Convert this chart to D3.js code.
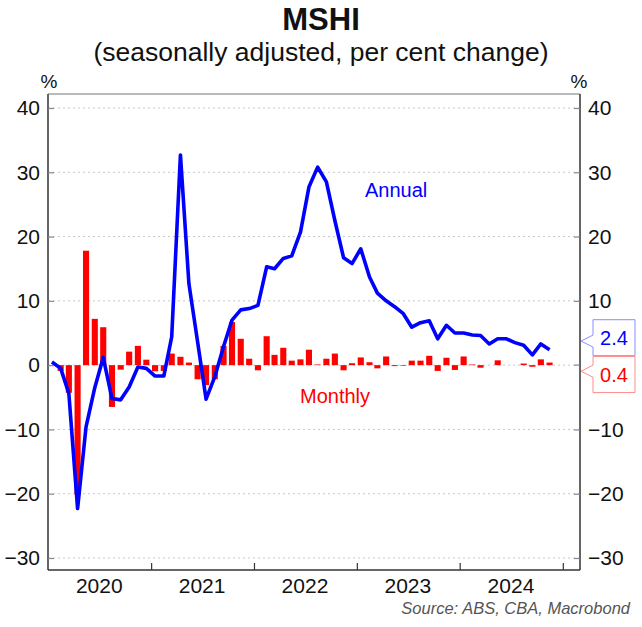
<!DOCTYPE html>
<html>
<head>
<meta charset="utf-8">
<script src="https://cdn.jsdelivr.net/npm/d3@7"></script>
<style>
  html, body { margin: 0; padding: 0; background: #fff; }
  svg { display: block; font-family: "Liberation Sans", Arial, sans-serif; }
</style>
</head>
<body>
<svg id="chart" width="642" height="627"></svg>
<script>
// ---- Data (Jan 2020 .. Nov 2024, monthly) ----
const startMonth = "2020-01";
const endMonth = "2024-11";
const annual = [
  0.5, -0.5, -4.4, -22.3, -9.6, -3.5, 1.2, -5.2, -5.4, -3.4, -0.3, -0.5,
  -1.7, -1.7, 4.4, 32.7, 12.7, 3.6, -5.3, -1.8, 2.9, 7.0, 8.6, 8.8,
  9.3, 15.3, 15.0, 16.6, 17.0, 20.7, 27.7, 30.8, 28.5, 22.5, 16.7, 15.8,
  18.1, 13.7, 11.2, 10.0, 9.1, 8.0, 5.9, 6.6, 6.9, 4.1, 6.2, 5.0,
  5.0, 4.7, 4.6, 3.3, 4.1, 4.1, 3.5, 3.1, 1.6, 3.3, 2.4
];
const monthly = [
  null, -0.9, -4.3, -20.1, 17.8, 7.2, 5.9, -6.5, -0.7, 2.1, 3.0, 0.85,
  -0.95, -0.9, 1.8, 1.3, 0.4, -2.2, -3.1, -2.2, 3.0, 6.7, 4.1, 1.0,
  -0.8, 4.5, 1.6, 2.7, 0.7, 0.9, 2.4, 0.1, 1.0, 1.8, -0.8, 0.3,
  1.2, 0.45, -0.5, 1.35, -0.15, -0.1, 0.7, 0.7, 1.45, -0.9, 1.15, -0.75,
  1.35, 0.1, -0.4, 0.0, 0.75, 0.0, 0.0, 0.25, -0.25, 0.9, 0.4
];
const yTicks = [-30, -20, -10, 0, 10, 20, 30, 40];
const yTicksRight = [-30, -20, -10, 10, 20, 30, 40];
const yearLabels = ["2020", "2021", "2022", "2023", "2024"];
const xDomain = ["2020-01-01", "2025-03-03"];

// ---- Layout ----
const svg = d3.select("#chart");
const L = 48, R = 580, T = 94, B = 570;

const parseMonth = d3.utcParse("%Y-%m");
const months = d3.utcMonth.range(parseMonth(startMonth), d3.utcMonth.offset(parseMonth(endMonth), 1));
const mid = d => d3.utcDay.offset(d, 14);
const rows = months.map((m, i) => ({ date: m, annual: annual[i], monthly: monthly[i] }));

const x = d3.scaleUtc().domain(xDomain.map(s => new Date(s + "T00:00:00Z"))).range([L, R]);
// y: 40 -> 108 px, -30 -> 558 px
const pxPerUnit = (558 - 108) / 70;
const y = d3.scaleLinear()
  .domain([-30 - (B - 558) / pxPerUnit, 40 + (108 - T) / pxPerUnit])
  .range([B, T]);

const monthW = x(new Date(Date.UTC(2021, 1, 1))) - x(new Date(Date.UTC(2021, 0, 1)));
const barW = monthW * 0.7;

// gridlines
svg.append("g").selectAll("line").data(yTicks).join("line")
  .attr("x1", L).attr("x2", R)
  .attr("y1", d => y(d)).attr("y2", d => y(d))
  .attr("stroke", "#c8c8c8").attr("stroke-width", 1)
  .attr("stroke-dasharray", "2,3");

// bars
svg.append("g").selectAll("rect").data(rows.filter(r => r.monthly !== null)).join("rect")
  .attr("x", d => x(mid(d.date)) - barW / 2)
  .attr("width", barW)
  .attr("y", d => y(Math.max(0, d.monthly)))
  .attr("height", d => Math.abs(y(d.monthly) - y(0)))
  .attr("fill", "#ff0000");

// line
const line = d3.line().x(d => x(mid(d.date))).y(d => y(d.annual));
svg.append("path").datum(rows).attr("d", line)
  .attr("fill", "none").attr("stroke", "#0000ff")
  .attr("stroke-width", 3.6).attr("stroke-linejoin", "round");

// frame top
svg.append("line").attr("x1", L).attr("x2", R).attr("y1", T).attr("y2", T)
  .attr("stroke", "#777").attr("stroke-width", 1.2);

// left axis
const yl = svg.append("g").attr("transform", `translate(${L},0)`)
  .call(d3.axisLeft(y).tickValues(yTicks).tickSize(-6).tickPadding(8));
// right axis
const yr = svg.append("g").attr("transform", `translate(${R},0)`)
  .call(d3.axisRight(y).tickValues(yTicksRight).tickSize(-6).tickPadding(8));
[yl, yr].forEach(g => {
  g.select(".domain").attr("stroke", "#333").attr("stroke-width", 1.5).attr("d",
    `M0,${T}V${B}`);
  g.selectAll(".tick line").attr("stroke", "#888").attr("stroke-width", 1.2);
  g.selectAll(".tick text").attr("font-size", 21).attr("fill", "#111")
    .attr("font-family", "Liberation Sans, Arial, sans-serif");
});
yl.selectAll(".tick text").attr("x", -8);
yr.selectAll(".tick text").attr("x", 8);
// right-side tick mark at 0 (label hidden by callouts)
svg.append("line").attr("x1", R - 6).attr("x2", R).attr("y1", y(0)).attr("y2", y(0))
  .attr("stroke", "#888").attr("stroke-width", 1.2);

// bottom axis
const yearStarts = d3.utcYear.range(new Date(Date.UTC(2021, 0, 1)), new Date(Date.UTC(2026, 0, 1)));
const xb = svg.append("g").attr("transform", `translate(0,${B})`)
  .call(d3.axisBottom(x).tickValues(yearStarts).tickSize(-7).tickFormat(""));
xb.select(".domain").attr("stroke", "#333").attr("stroke-width", 1.5).attr("d", `M${L},0H${R}`);
xb.selectAll(".tick line").attr("stroke", "#333").attr("stroke-width", 1.2);

svg.append("g").selectAll("text").data(yearLabels).join("text")
  .attr("x", d => x(new Date(Date.UTC(+d, 6, 1))))
  .attr("y", 593)
  .attr("text-anchor", "middle").attr("font-size", 21).attr("fill", "#111")
  .text(d => d);

// titles
svg.append("text").attr("x", 321).attr("y", 30).attr("text-anchor", "middle")
  .attr("font-size", 31).attr("font-weight", "bold").attr("fill", "#111").text("MSHI");
svg.append("text").attr("x", 321).attr("y", 61).attr("text-anchor", "middle")
  .attr("font-size", 26.5).attr("fill", "#111").text("(seasonally adjusted, per cent change)");
svg.append("text").attr("x", 49).attr("y", 88).attr("text-anchor", "middle")
  .attr("font-size", 19).attr("fill", "#111").text("%");
svg.append("text").attr("x", 579).attr("y", 88).attr("text-anchor", "middle")
  .attr("font-size", 19).attr("fill", "#111").text("%");

// series labels
svg.append("text").attr("x", 365).attr("y", 197).attr("font-size", 20)
  .attr("fill", "#0000ff").text("Annual");
svg.append("text").attr("x", 300).attr("y", 403).attr("font-size", 20)
  .attr("fill", "#ff0000").text("Monthly");

// source
svg.append("text").attr("x", 630).attr("y", 614).attr("text-anchor", "end")
  .attr("font-size", 16.5).attr("font-style", "italic").attr("fill", "#555")
  .text("Source: ABS, CBA, Macrobond");

// callouts for last values
function callout(val, dy, stroke, color) {
  const cy = y(val) + dy;
  const bx = 593, bw = 42, bh = 36, tipX = 581;
  const tipY = y(val) + dy * 0.72;
  const g = svg.append("g");
  const top = cy - bh / 2, bot = cy + bh / 2;
  g.append("path")
    .attr("d", `M${bx},${top}H${bx + bw}V${bot}H${bx}V${tipY + 6}L${tipX},${tipY}L${bx},${tipY - 6}Z`)
    .attr("fill", "#fff").attr("stroke", stroke).attr("stroke-width", 1);
  g.append("text").attr("x", bx + bw / 2).attr("y", cy + 7).attr("text-anchor", "middle")
    .attr("font-size", 20).attr("fill", color).text(d3.format(".1f")(val));
}
callout(annual[annual.length - 1], -12, "#8c8cff", "#0000ff");
callout(monthly[monthly.length - 1], 12, "#ff8c8c", "#ff0000");
</script>
</body>
</html>
